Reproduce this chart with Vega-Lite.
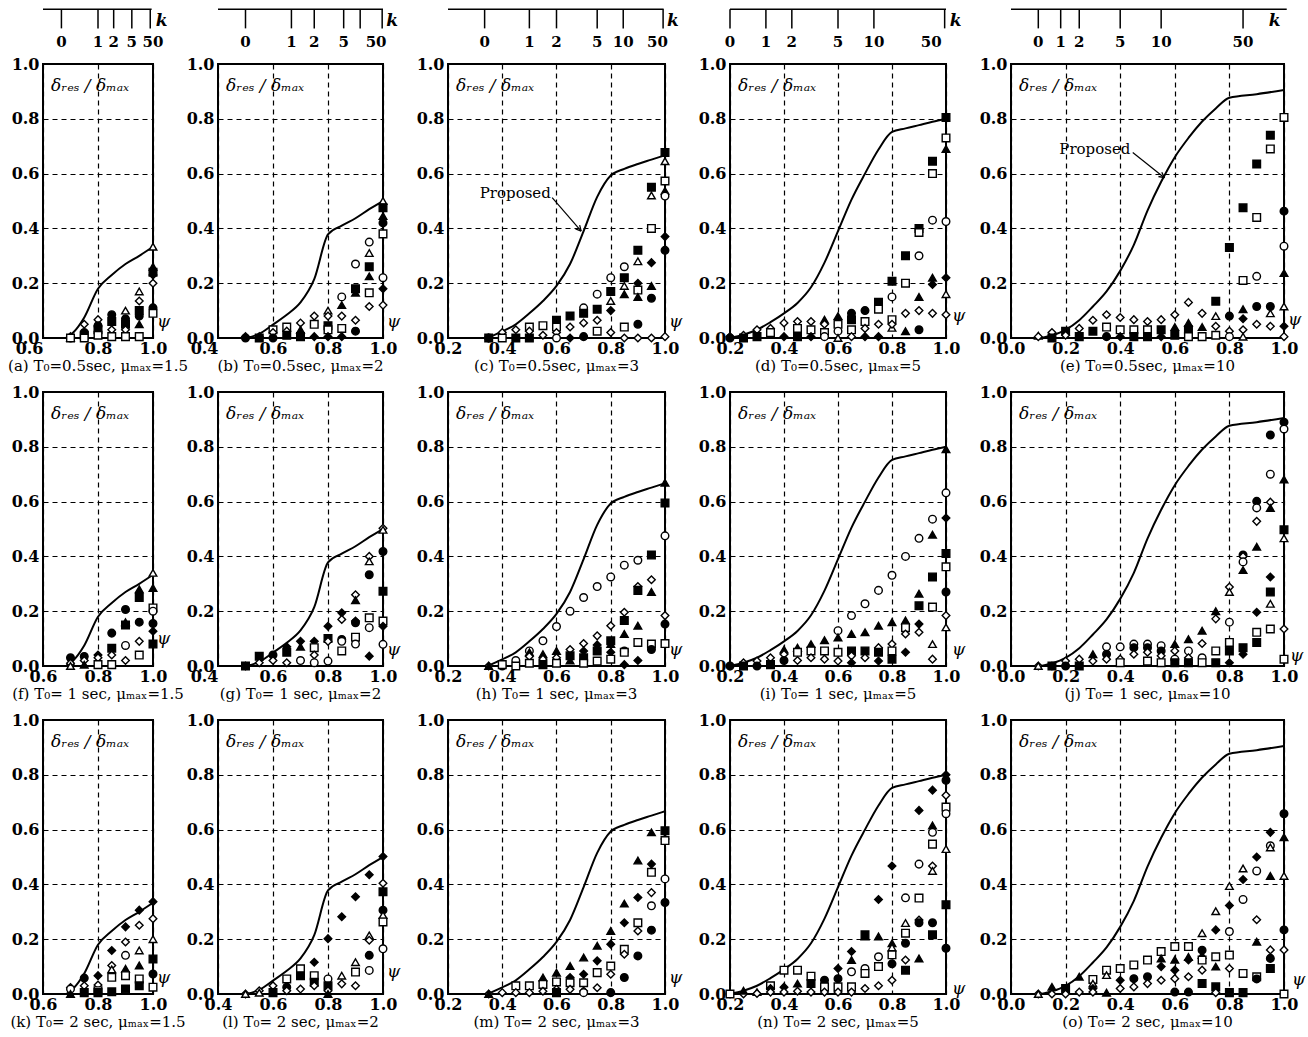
{
"$schema":"https://vega.github.io/schema/vega-lite/v6.json",
"background":"white",
"padding":{"left":7,"top":7,"right":2,"bottom":2},
"config":{
 "font":"DejaVu Serif",
 "view":{"stroke":"black","strokeWidth":2},
 "axis":{"grid":true,"gridColor":"black","gridDash":[5,4],"gridWidth":1.2,"gridOpacity":1,"domain":false,"ticks":false,"labelFont":"DejaVu Serif","labelFontSize":16,"labelFontWeight":"bold","labelColor":"black","format":".1f","labelOverlap":false},
 "axisX":{"labelPadding":2,"labelFlush":false},
 "axisY":{"labelPadding":4},
 "title":{"orient":"bottom","anchor":"middle","font":"DejaVu Serif","fontSize":15,"fontWeight":"normal","color":"black","offset":3},
 "text":{"color":"black"}
},
"datasets":{
 "curve":[
  {"c":"a","x":0.685,"y":0},{"c":"a","x":0.71,"y":0.02},{"c":"a","x":0.75,"y":0.075},{"c":"a","x":0.8,"y":0.18},{"c":"a","x":0.85,"y":0.23},{"c":"a","x":0.9,"y":0.27},{"c":"a","x":0.95,"y":0.3},{"c":"a","x":1.0,"y":0.333},
  {"c":"b","x":0.503,"y":0},{"c":"b","x":0.55,"y":0.015},{"c":"b","x":0.6,"y":0.049},{"c":"b","x":0.65,"y":0.085},{"c":"b","x":0.7,"y":0.13},{"c":"b","x":0.75,"y":0.215},{"c":"b","x":0.8,"y":0.378},{"c":"b","x":0.85,"y":0.41},{"c":"b","x":0.9,"y":0.437},{"c":"b","x":0.95,"y":0.47},{"c":"b","x":1.0,"y":0.5},
  {"c":"c","x":0.347,"y":0},{"c":"c","x":0.4,"y":0.024},{"c":"c","x":0.45,"y":0.05},{"c":"c","x":0.5,"y":0.09},{"c":"c","x":0.55,"y":0.135},{"c":"c","x":0.6,"y":0.19},{"c":"c","x":0.65,"y":0.27},{"c":"c","x":0.7,"y":0.39},{"c":"c","x":0.75,"y":0.515},{"c":"c","x":0.8,"y":0.593},{"c":"c","x":0.85,"y":0.617},{"c":"c","x":0.9,"y":0.635},{"c":"c","x":0.95,"y":0.651},{"c":"c","x":1.0,"y":0.667},
  {"c":"d","x":0.2,"y":0},{"c":"d","x":0.25,"y":0.012},{"c":"d","x":0.3,"y":0.03},{"c":"d","x":0.35,"y":0.058},{"c":"d","x":0.4,"y":0.09},{"c":"d","x":0.45,"y":0.128},{"c":"d","x":0.5,"y":0.185},{"c":"d","x":0.55,"y":0.275},{"c":"d","x":0.6,"y":0.39},{"c":"d","x":0.65,"y":0.505},{"c":"d","x":0.7,"y":0.6},{"c":"d","x":0.75,"y":0.688},{"c":"d","x":0.8,"y":0.752},{"c":"d","x":0.85,"y":0.765},{"c":"d","x":0.9,"y":0.777},{"c":"d","x":0.95,"y":0.789},{"c":"d","x":1.0,"y":0.8},
  {"c":"e","x":0.11,"y":0},{"c":"e","x":0.15,"y":0.01},{"c":"e","x":0.2,"y":0.03},{"c":"e","x":0.25,"y":0.065},{"c":"e","x":0.3,"y":0.115},{"c":"e","x":0.35,"y":0.17},{"c":"e","x":0.4,"y":0.245},{"c":"e","x":0.45,"y":0.34},{"c":"e","x":0.5,"y":0.465},{"c":"e","x":0.55,"y":0.57},{"c":"e","x":0.6,"y":0.66},{"c":"e","x":0.65,"y":0.73},{"c":"e","x":0.7,"y":0.79},{"c":"e","x":0.75,"y":0.838},{"c":"e","x":0.8,"y":0.877},{"c":"e","x":0.9,"y":0.89},{"c":"e","x":1.0,"y":0.905}
 ],
 "kax":[
  {"c":"a","k":"0","x":0.667,"lx":0.667},{"c":"a","k":"1","x":0.8,"lx":0.8},{"c":"a","k":"2","x":0.857,"lx":0.857},{"c":"a","k":"5","x":0.923,"lx":0.923},{"c":"a","k":"50","x":0.99,"lx":1.0},
  {"c":"b","k":"0","x":0.5,"lx":0.5},{"c":"b","k":"1","x":0.667,"lx":0.667},{"c":"b","k":"2","x":0.75,"lx":0.75},{"c":"b","k":"5","x":0.857,"lx":0.857},{"c":"b","k":"","x":0.917,"lx":0.917},{"c":"b","k":"50","x":0.997,"lx":0.975},
  {"c":"c","k":"0","x":0.335,"lx":0.335},{"c":"c","k":"1","x":0.5,"lx":0.5},{"c":"c","k":"2","x":0.6,"lx":0.6},{"c":"c","k":"5","x":0.75,"lx":0.75},{"c":"c","k":"10","x":0.846,"lx":0.846},{"c":"c","k":"50","x":0.993,"lx":0.972},
  {"c":"d","k":"0","x":0.2,"lx":0.2},{"c":"d","k":"1","x":0.333,"lx":0.333},{"c":"d","k":"2","x":0.429,"lx":0.429},{"c":"d","k":"5","x":0.6,"lx":0.6},{"c":"d","k":"10","x":0.733,"lx":0.733},{"c":"d","k":"50","x":0.995,"lx":0.945},
  {"c":"e","k":"0","x":0.1,"lx":0.1},{"c":"e","k":"1","x":0.182,"lx":0.182},{"c":"e","k":"2","x":0.25,"lx":0.25},{"c":"e","k":"5","x":0.4,"lx":0.4},{"c":"e","k":"10","x":0.55,"lx":0.55},{"c":"e","k":"50","x":0.85,"lx":0.85}
 ],
 "pts":[
  {"p":"a","s":"od","x":0.7,"y":0.005},{"p":"a","s":"fc","x":0.7,"y":0},{"p":"a","s":"ot","x":0.7,"y":0},{"p":"a","s":"os","x":0.7,"y":0},
  {"p":"a","s":"od","x":0.75,"y":0.05},{"p":"a","s":"fs","x":0.75,"y":0.01},{"p":"a","s":"fc","x":0.75,"y":0.02},{"p":"a","s":"os","x":0.75,"y":0},
  {"p":"a","s":"od","x":0.8,"y":0.067},{"p":"a","s":"fc","x":0.8,"y":0.045},{"p":"a","s":"fs","x":0.8,"y":0.03},{"p":"a","s":"os","x":0.8,"y":0.01},
  {"p":"a","s":"fc","x":0.85,"y":0.085},{"p":"a","s":"fs","x":0.85,"y":0.06},{"p":"a","s":"od","x":0.85,"y":0.03},{"p":"a","s":"os","x":0.85,"y":0.005},
  {"p":"a","s":"ot","x":0.9,"y":0.1},{"p":"a","s":"fc","x":0.9,"y":0.07},{"p":"a","s":"fs","x":0.9,"y":0.05},{"p":"a","s":"od","x":0.9,"y":0.03},{"p":"a","s":"os","x":0.9,"y":0.005},
  {"p":"a","s":"ot","x":0.95,"y":0.17},{"p":"a","s":"od","x":0.95,"y":0.135},{"p":"a","s":"fs","x":0.95,"y":0.1},{"p":"a","s":"fc","x":0.95,"y":0.08},{"p":"a","s":"ft","x":0.95,"y":0.05},{"p":"a","s":"os","x":0.95,"y":0.005},
  {"p":"a","s":"ot","x":1,"y":0.333},{"p":"a","s":"ft","x":1,"y":0.26},{"p":"a","s":"fs","x":1,"y":0.24},{"p":"a","s":"fd","x":1,"y":0.23},{"p":"a","s":"od","x":1,"y":0.2},{"p":"a","s":"fc","x":1,"y":0.11},{"p":"a","s":"os","x":1,"y":0.09},

  {"p":"b","s":"od","x":0.5,"y":0.005},{"p":"b","s":"fc","x":0.5,"y":0},
  {"p":"b","s":"od","x":0.55,"y":0.005},{"p":"b","s":"fs","x":0.55,"y":0},
  {"p":"b","s":"os","x":0.6,"y":0.03},{"p":"b","s":"od","x":0.6,"y":0.02},{"p":"b","s":"fc","x":0.6,"y":0},
  {"p":"b","s":"os","x":0.65,"y":0.04},{"p":"b","s":"od","x":0.65,"y":0.025},{"p":"b","s":"fs","x":0.65,"y":0.01},
  {"p":"b","s":"od","x":0.7,"y":0.055},{"p":"b","s":"ft","x":0.7,"y":0.03},{"p":"b","s":"fs","x":0.7,"y":0.005},
  {"p":"b","s":"od","x":0.75,"y":0.08},{"p":"b","s":"os","x":0.75,"y":0.05},{"p":"b","s":"fd","x":0.75,"y":0.005},
  {"p":"b","s":"ot","x":0.8,"y":0.1},{"p":"b","s":"od","x":0.8,"y":0.08},{"p":"b","s":"fs","x":0.8,"y":0.045},{"p":"b","s":"os","x":0.8,"y":0.03},{"p":"b","s":"fd","x":0.8,"y":0.005},
  {"p":"b","s":"oc","x":0.85,"y":0.15},{"p":"b","s":"ft","x":0.85,"y":0.12},{"p":"b","s":"od","x":0.85,"y":0.08},{"p":"b","s":"os","x":0.85,"y":0.035},{"p":"b","s":"fd","x":0.85,"y":0.005},
  {"p":"b","s":"oc","x":0.9,"y":0.27},{"p":"b","s":"fs","x":0.9,"y":0.18},{"p":"b","s":"ft","x":0.9,"y":0.165},{"p":"b","s":"od","x":0.9,"y":0.065},{"p":"b","s":"fc","x":0.9,"y":0.025},
  {"p":"b","s":"oc","x":0.95,"y":0.35},{"p":"b","s":"ot","x":0.95,"y":0.31},{"p":"b","s":"fs","x":0.95,"y":0.26},{"p":"b","s":"ft","x":0.95,"y":0.225},{"p":"b","s":"os","x":0.95,"y":0.165},{"p":"b","s":"od","x":0.95,"y":0.115},
  {"p":"b","s":"ot","x":1,"y":0.5},{"p":"b","s":"fs","x":1,"y":0.475},{"p":"b","s":"ft","x":1,"y":0.445},{"p":"b","s":"fc","x":1,"y":0.42},{"p":"b","s":"os","x":1,"y":0.38},{"p":"b","s":"oc","x":1,"y":0.22},{"p":"b","s":"fd","x":1,"y":0.18},{"p":"b","s":"od","x":1,"y":0.12},

  {"p":"c","s":"od","x":0.35,"y":0},{"p":"c","s":"os","x":0.35,"y":0},{"p":"c","s":"fc","x":0.35,"y":0},
  {"p":"c","s":"od","x":0.4,"y":0.02},{"p":"c","s":"os","x":0.4,"y":0},
  {"p":"c","s":"od","x":0.45,"y":0.03},{"p":"c","s":"fs","x":0.45,"y":0},
  {"p":"c","s":"os","x":0.5,"y":0.04},{"p":"c","s":"od","x":0.5,"y":0.025},{"p":"c","s":"fs","x":0.5,"y":0},
  {"p":"c","s":"os","x":0.55,"y":0.045},{"p":"c","s":"od","x":0.55,"y":0.01},
  {"p":"c","s":"fs","x":0.6,"y":0.065},{"p":"c","s":"os","x":0.6,"y":0.04},{"p":"c","s":"od","x":0.6,"y":0.02},{"p":"c","s":"oc","x":0.6,"y":0},
  {"p":"c","s":"fs","x":0.65,"y":0.08},{"p":"c","s":"od","x":0.65,"y":0.04},{"p":"c","s":"fd","x":0.65,"y":0},
  {"p":"c","s":"oc","x":0.7,"y":0.11},{"p":"c","s":"fs","x":0.7,"y":0.09},{"p":"c","s":"od","x":0.7,"y":0.055},{"p":"c","s":"fc","x":0.7,"y":0.005},
  {"p":"c","s":"oc","x":0.75,"y":0.16},{"p":"c","s":"fs","x":0.75,"y":0.105},{"p":"c","s":"od","x":0.75,"y":0.065},{"p":"c","s":"os","x":0.75,"y":0.025},
  {"p":"c","s":"oc","x":0.8,"y":0.22},{"p":"c","s":"fs","x":0.8,"y":0.17},{"p":"c","s":"ot","x":0.8,"y":0.135},{"p":"c","s":"fd","x":0.8,"y":0.1},{"p":"c","s":"od","x":0.8,"y":0.02},
  {"p":"c","s":"oc","x":0.85,"y":0.26},{"p":"c","s":"fs","x":0.85,"y":0.22},{"p":"c","s":"ot","x":0.85,"y":0.19},{"p":"c","s":"ft","x":0.85,"y":0.16},{"p":"c","s":"os","x":0.85,"y":0.04},{"p":"c","s":"od","x":0.85,"y":0},
  {"p":"c","s":"fs","x":0.9,"y":0.32},{"p":"c","s":"ot","x":0.9,"y":0.28},{"p":"c","s":"fd","x":0.9,"y":0.2},{"p":"c","s":"os","x":0.9,"y":0.175},{"p":"c","s":"ft","x":0.9,"y":0.15},{"p":"c","s":"fc","x":0.9,"y":0.05},{"p":"c","s":"od","x":0.9,"y":0},
  {"p":"c","s":"fs","x":0.95,"y":0.55},{"p":"c","s":"ot","x":0.95,"y":0.52},{"p":"c","s":"os","x":0.95,"y":0.4},{"p":"c","s":"fd","x":0.95,"y":0.275},{"p":"c","s":"ft","x":0.95,"y":0.19},{"p":"c","s":"fc","x":0.95,"y":0.145},{"p":"c","s":"od","x":0.95,"y":0},
  {"p":"c","s":"fs","x":1,"y":0.677},{"p":"c","s":"ot","x":1,"y":0.645},{"p":"c","s":"os","x":1,"y":0.573},{"p":"c","s":"ft","x":1,"y":0.537},{"p":"c","s":"oc","x":1,"y":0.518},{"p":"c","s":"fd","x":1,"y":0.37},{"p":"c","s":"fc","x":1,"y":0.32},{"p":"c","s":"od","x":1,"y":0.005},

  {"p":"d","s":"od","x":0.2,"y":0.005},{"p":"d","s":"fc","x":0.2,"y":0},
  {"p":"d","s":"od","x":0.25,"y":0.01},{"p":"d","s":"fs","x":0.25,"y":0},
  {"p":"d","s":"od","x":0.3,"y":0.03},{"p":"d","s":"fs","x":0.3,"y":0.005},
  {"p":"d","s":"od","x":0.35,"y":0.035},{"p":"d","s":"os","x":0.35,"y":0.02},
  {"p":"d","s":"od","x":0.4,"y":0.055},{"p":"d","s":"fd","x":0.4,"y":0.005},
  {"p":"d","s":"od","x":0.45,"y":0.06},{"p":"d","s":"os","x":0.45,"y":0.035},{"p":"d","s":"fs","x":0.45,"y":0.005},
  {"p":"d","s":"od","x":0.5,"y":0.06},{"p":"d","s":"os","x":0.5,"y":0.03},{"p":"d","s":"fd","x":0.5,"y":0.005},
  {"p":"d","s":"ft","x":0.55,"y":0.067},{"p":"d","s":"od","x":0.55,"y":0.05},{"p":"d","s":"os","x":0.55,"y":0.02},{"p":"d","s":"oc","x":0.55,"y":0.005},
  {"p":"d","s":"ft","x":0.6,"y":0.08},{"p":"d","s":"os","x":0.6,"y":0.05},{"p":"d","s":"oc","x":0.6,"y":0.025},{"p":"d","s":"ot","x":0.6,"y":0},
  {"p":"d","s":"fc","x":0.65,"y":0.09},{"p":"d","s":"fs","x":0.65,"y":0.067},{"p":"d","s":"os","x":0.65,"y":0.03},{"p":"d","s":"od","x":0.65,"y":0.005},
  {"p":"d","s":"fc","x":0.7,"y":0.1},{"p":"d","s":"os","x":0.7,"y":0.06},{"p":"d","s":"od","x":0.7,"y":0.035},{"p":"d","s":"fd","x":0.7,"y":0.005},
  {"p":"d","s":"fs","x":0.75,"y":0.13},{"p":"d","s":"os","x":0.75,"y":0.105},{"p":"d","s":"od","x":0.75,"y":0.05},{"p":"d","s":"fd","x":0.75,"y":0.005},
  {"p":"d","s":"fs","x":0.8,"y":0.207},{"p":"d","s":"oc","x":0.8,"y":0.15},{"p":"d","s":"os","x":0.8,"y":0.067},{"p":"d","s":"ot","x":0.8,"y":0.037},{"p":"d","s":"od","x":0.8,"y":0.05},
  {"p":"d","s":"fs","x":0.85,"y":0.3},{"p":"d","s":"os","x":0.85,"y":0.2},{"p":"d","s":"od","x":0.85,"y":0.09},{"p":"d","s":"ft","x":0.85,"y":0.025},
  {"p":"d","s":"oc","x":0.9,"y":0.3},{"p":"d","s":"fs","x":0.9,"y":0.4},{"p":"d","s":"os","x":0.9,"y":0.385},{"p":"d","s":"ft","x":0.9,"y":0.15},{"p":"d","s":"od","x":0.9,"y":0.1},{"p":"d","s":"fc","x":0.9,"y":0.03},
  {"p":"d","s":"oc","x":0.95,"y":0.43},{"p":"d","s":"fs","x":0.95,"y":0.645},{"p":"d","s":"os","x":0.95,"y":0.6},{"p":"d","s":"ft","x":0.95,"y":0.22},{"p":"d","s":"fd","x":0.95,"y":0.195},{"p":"d","s":"od","x":0.95,"y":0.09},
  {"p":"d","s":"fs","x":1,"y":0.805},{"p":"d","s":"os","x":1,"y":0.73},{"p":"d","s":"ft","x":1,"y":0.69},{"p":"d","s":"oc","x":1,"y":0.425},{"p":"d","s":"fd","x":1,"y":0.22},{"p":"d","s":"ot","x":1,"y":0.16},{"p":"d","s":"od","x":1,"y":0.085},

  {"p":"e","s":"ot","x":0.1,"y":0.008},{"p":"e","s":"od","x":0.1,"y":0.005},
  {"p":"e","s":"od","x":0.15,"y":0.02},{"p":"e","s":"fs","x":0.15,"y":0},
  {"p":"e","s":"fs","x":0.2,"y":0.025},{"p":"e","s":"od","x":0.2,"y":0.01},
  {"p":"e","s":"od","x":0.25,"y":0.035},{"p":"e","s":"fs","x":0.25,"y":0.005},
  {"p":"e","s":"od","x":0.3,"y":0.065},{"p":"e","s":"fs","x":0.3,"y":0.025},
  {"p":"e","s":"od","x":0.35,"y":0.085},{"p":"e","s":"os","x":0.35,"y":0.04},{"p":"e","s":"fc","x":0.35,"y":0.005},
  {"p":"e","s":"od","x":0.4,"y":0.075},{"p":"e","s":"os","x":0.4,"y":0.03},{"p":"e","s":"fd","x":0.4,"y":0.005},
  {"p":"e","s":"od","x":0.45,"y":0.067},{"p":"e","s":"os","x":0.45,"y":0.03},{"p":"e","s":"fs","x":0.45,"y":0.005},
  {"p":"e","s":"od","x":0.5,"y":0.06},{"p":"e","s":"os","x":0.5,"y":0.03},{"p":"e","s":"fs","x":0.5,"y":0.005},
  {"p":"e","s":"od","x":0.55,"y":0.067},{"p":"e","s":"fs","x":0.55,"y":0.03},{"p":"e","s":"fd","x":0.55,"y":0.005},
  {"p":"e","s":"od","x":0.6,"y":0.085},{"p":"e","s":"ft","x":0.6,"y":0.04},{"p":"e","s":"fs","x":0.6,"y":0.01},
  {"p":"e","s":"od","x":0.65,"y":0.13},{"p":"e","s":"ft","x":0.65,"y":0.055},{"p":"e","s":"fs","x":0.65,"y":0.03},{"p":"e","s":"os","x":0.65,"y":0.005},
  {"p":"e","s":"od","x":0.7,"y":0.09},{"p":"e","s":"ft","x":0.7,"y":0.04},{"p":"e","s":"os","x":0.7,"y":0.005},
  {"p":"e","s":"fs","x":0.75,"y":0.134},{"p":"e","s":"ot","x":0.75,"y":0.08},{"p":"e","s":"od","x":0.75,"y":0.043},{"p":"e","s":"os","x":0.75,"y":0.01},
  {"p":"e","s":"fs","x":0.8,"y":0.33},{"p":"e","s":"fc","x":0.8,"y":0.08},{"p":"e","s":"od","x":0.8,"y":0.025},{"p":"e","s":"oc","x":0.8,"y":0.005},
  {"p":"e","s":"fs","x":0.85,"y":0.475},{"p":"e","s":"os","x":0.85,"y":0.21},{"p":"e","s":"ft","x":0.85,"y":0.105},{"p":"e","s":"fd","x":0.85,"y":0.07},{"p":"e","s":"od","x":0.85,"y":0.03},{"p":"e","s":"ot","x":0.85,"y":0.005},
  {"p":"e","s":"fs","x":0.9,"y":0.635},{"p":"e","s":"os","x":0.9,"y":0.44},{"p":"e","s":"oc","x":0.9,"y":0.225},{"p":"e","s":"fc","x":0.9,"y":0.115},{"p":"e","s":"od","x":0.9,"y":0.05},
  {"p":"e","s":"fs","x":0.95,"y":0.74},{"p":"e","s":"os","x":0.95,"y":0.69},{"p":"e","s":"fc","x":0.95,"y":0.115},{"p":"e","s":"ot","x":0.95,"y":0.09},{"p":"e","s":"od","x":0.95,"y":0.043},
  {"p":"e","s":"os","x":1,"y":0.805},{"p":"e","s":"fc","x":1,"y":0.463},{"p":"e","s":"oc","x":1,"y":0.335},{"p":"e","s":"ft","x":1,"y":0.237},{"p":"e","s":"ot","x":1,"y":0.115},{"p":"e","s":"fd","x":1,"y":0.043},{"p":"e","s":"od","x":1,"y":0.005},

  {"p":"f","s":"fc","x":0.7,"y":0.03},{"p":"f","s":"ft","x":0.7,"y":0.015},{"p":"f","s":"od","x":0.7,"y":0.01},{"p":"f","s":"ot","x":0.7,"y":0},
  {"p":"f","s":"fc","x":0.75,"y":0.035},{"p":"f","s":"od","x":0.75,"y":0.02},{"p":"f","s":"ft","x":0.75,"y":0.005},
  {"p":"f","s":"fd","x":0.8,"y":0.04},{"p":"f","s":"od","x":0.8,"y":0.03},{"p":"f","s":"os","x":0.8,"y":0.005},
  {"p":"f","s":"fc","x":0.85,"y":0.12},{"p":"f","s":"fs","x":0.85,"y":0.065},{"p":"f","s":"od","x":0.85,"y":0.04},{"p":"f","s":"os","x":0.85,"y":0.005},
  {"p":"f","s":"fc","x":0.9,"y":0.206},{"p":"f","s":"ft","x":0.9,"y":0.16},{"p":"f","s":"fs","x":0.9,"y":0.15},{"p":"f","s":"oc","x":0.9,"y":0.075},{"p":"f","s":"od","x":0.9,"y":0.02},
  {"p":"f","s":"ft","x":0.95,"y":0.28},{"p":"f","s":"fs","x":0.95,"y":0.25},{"p":"f","s":"fc","x":0.95,"y":0.16},{"p":"f","s":"od","x":0.95,"y":0.09},{"p":"f","s":"os","x":0.95,"y":0.04},
  {"p":"f","s":"ot","x":1,"y":0.34},{"p":"f","s":"ft","x":1,"y":0.285},{"p":"f","s":"os","x":1,"y":0.212},{"p":"f","s":"oc","x":1,"y":0.2},{"p":"f","s":"fc","x":1,"y":0.155},{"p":"f","s":"fd","x":1,"y":0.127},{"p":"f","s":"fs","x":1,"y":0.08},

  {"p":"g","s":"od","x":0.5,"y":0},{"p":"g","s":"fs","x":0.5,"y":0},
  {"p":"g","s":"fs","x":0.55,"y":0.036},{"p":"g","s":"od","x":0.55,"y":0.012},
  {"p":"g","s":"fc","x":0.6,"y":0.04},{"p":"g","s":"od","x":0.6,"y":0.02},
  {"p":"g","s":"fd","x":0.65,"y":0.07},{"p":"g","s":"fs","x":0.65,"y":0.05},{"p":"g","s":"od","x":0.65,"y":0.012},
  {"p":"g","s":"fd","x":0.7,"y":0.09},{"p":"g","s":"ft","x":0.7,"y":0.07},{"p":"g","s":"oc","x":0.7,"y":0.02},
  {"p":"g","s":"fd","x":0.75,"y":0.09},{"p":"g","s":"os","x":0.75,"y":0.067},{"p":"g","s":"od","x":0.75,"y":0.04},{"p":"g","s":"oc","x":0.75,"y":0.012},
  {"p":"g","s":"fd","x":0.8,"y":0.145},{"p":"g","s":"fs","x":0.8,"y":0.1},{"p":"g","s":"od","x":0.8,"y":0.09},{"p":"g","s":"oc","x":0.8,"y":0.018},
  {"p":"g","s":"fd","x":0.85,"y":0.194},{"p":"g","s":"od","x":0.85,"y":0.17},{"p":"g","s":"fc","x":0.85,"y":0.097},{"p":"g","s":"oc","x":0.85,"y":0.09},{"p":"g","s":"os","x":0.85,"y":0.055},
  {"p":"g","s":"od","x":0.9,"y":0.26},{"p":"g","s":"ft","x":0.9,"y":0.24},{"p":"g","s":"fd","x":0.9,"y":0.164},{"p":"g","s":"fc","x":0.9,"y":0.158},{"p":"g","s":"os","x":0.9,"y":0.105},{"p":"g","s":"oc","x":0.9,"y":0.08},
  {"p":"g","s":"od","x":0.95,"y":0.4},{"p":"g","s":"ot","x":0.95,"y":0.382},{"p":"g","s":"fc","x":0.95,"y":0.333},{"p":"g","s":"os","x":0.95,"y":0.176},{"p":"g","s":"oc","x":0.95,"y":0.14},{"p":"g","s":"fd","x":0.95,"y":0.036},
  {"p":"g","s":"od","x":1,"y":0.503},{"p":"g","s":"ot","x":1,"y":0.497},{"p":"g","s":"fc","x":1,"y":0.418},{"p":"g","s":"fs","x":1,"y":0.273},{"p":"g","s":"os","x":1,"y":0.164},{"p":"g","s":"fd","x":1,"y":0.145},{"p":"g","s":"oc","x":1,"y":0.079},

  {"p":"h","s":"od","x":0.35,"y":0},{"p":"h","s":"ft","x":0.35,"y":0},
  {"p":"h","s":"oc","x":0.4,"y":0},{"p":"h","s":"os","x":0.4,"y":0.005},
  {"p":"h","s":"oc","x":0.45,"y":0.02},{"p":"h","s":"os","x":0.45,"y":0},
  {"p":"h","s":"oc","x":0.5,"y":0.055},{"p":"h","s":"ft","x":0.5,"y":0.05},{"p":"h","s":"od","x":0.5,"y":0.035},{"p":"h","s":"os","x":0.5,"y":0.01},
  {"p":"h","s":"oc","x":0.55,"y":0.092},{"p":"h","s":"ft","x":0.55,"y":0.043},{"p":"h","s":"od","x":0.55,"y":0.025},{"p":"h","s":"fs","x":0.55,"y":0.005},
  {"p":"h","s":"oc","x":0.6,"y":0.144},{"p":"h","s":"ft","x":0.6,"y":0.055},{"p":"h","s":"od","x":0.6,"y":0.03},{"p":"h","s":"os","x":0.6,"y":0.01},
  {"p":"h","s":"oc","x":0.65,"y":0.2},{"p":"h","s":"od","x":0.65,"y":0.06},{"p":"h","s":"fs","x":0.65,"y":0.037},{"p":"h","s":"ft","x":0.65,"y":0.02},
  {"p":"h","s":"oc","x":0.7,"y":0.25},{"p":"h","s":"od","x":0.7,"y":0.082},{"p":"h","s":"fd","x":0.7,"y":0.055},{"p":"h","s":"fs","x":0.7,"y":0.03},{"p":"h","s":"os","x":0.7,"y":0.01},
  {"p":"h","s":"oc","x":0.75,"y":0.29},{"p":"h","s":"od","x":0.75,"y":0.11},{"p":"h","s":"fd","x":0.75,"y":0.077},{"p":"h","s":"fs","x":0.75,"y":0.055},{"p":"h","s":"os","x":0.75,"y":0.018},
  {"p":"h","s":"oc","x":0.8,"y":0.325},{"p":"h","s":"od","x":0.8,"y":0.147},{"p":"h","s":"fs","x":0.8,"y":0.092},{"p":"h","s":"ft","x":0.8,"y":0.08},{"p":"h","s":"fd","x":0.8,"y":0.05},{"p":"h","s":"os","x":0.8,"y":0.025},
  {"p":"h","s":"oc","x":0.85,"y":0.368},{"p":"h","s":"od","x":0.85,"y":0.196},{"p":"h","s":"fs","x":0.85,"y":0.166},{"p":"h","s":"ft","x":0.85,"y":0.117},{"p":"h","s":"fc","x":0.85,"y":0.055},{"p":"h","s":"os","x":0.85,"y":0.05},{"p":"h","s":"fd","x":0.85,"y":0.005},
  {"p":"h","s":"oc","x":0.9,"y":0.386},{"p":"h","s":"od","x":0.9,"y":0.29},{"p":"h","s":"fs","x":0.9,"y":0.276},{"p":"h","s":"ft","x":0.9,"y":0.147},{"p":"h","s":"os","x":0.9,"y":0.086},{"p":"h","s":"fd","x":0.9,"y":0.02},
  {"p":"h","s":"fs","x":0.95,"y":0.405},{"p":"h","s":"od","x":0.95,"y":0.315},{"p":"h","s":"ft","x":0.95,"y":0.27},{"p":"h","s":"os","x":0.95,"y":0.08},{"p":"h","s":"fc","x":0.95,"y":0.06},
  {"p":"h","s":"ft","x":1,"y":0.669},{"p":"h","s":"fs","x":1,"y":0.595},{"p":"h","s":"oc","x":1,"y":0.475},{"p":"h","s":"od","x":1,"y":0.184},{"p":"h","s":"fc","x":1,"y":0.153},{"p":"h","s":"os","x":1,"y":0.082},

  {"p":"i","s":"od","x":0.2,"y":0},{"p":"i","s":"fc","x":0.2,"y":0},
  {"p":"i","s":"od","x":0.25,"y":0.012},{"p":"i","s":"fs","x":0.25,"y":0},
  {"p":"i","s":"od","x":0.3,"y":0.018},{"p":"i","s":"fc","x":0.3,"y":0},
  {"p":"i","s":"od","x":0.35,"y":0.03},{"p":"i","s":"fs","x":0.35,"y":0.005},
  {"p":"i","s":"ft","x":0.4,"y":0.06},{"p":"i","s":"od","x":0.4,"y":0.043},{"p":"i","s":"fc","x":0.4,"y":0.02},
  {"p":"i","s":"ft","x":0.45,"y":0.067},{"p":"i","s":"os","x":0.45,"y":0.05},{"p":"i","s":"od","x":0.45,"y":0.02},
  {"p":"i","s":"ft","x":0.5,"y":0.08},{"p":"i","s":"os","x":0.5,"y":0.055},{"p":"i","s":"od","x":0.5,"y":0.03},
  {"p":"i","s":"ft","x":0.55,"y":0.094},{"p":"i","s":"os","x":0.55,"y":0.055},{"p":"i","s":"od","x":0.55,"y":0.025},
  {"p":"i","s":"oc","x":0.6,"y":0.129},{"p":"i","s":"ft","x":0.6,"y":0.104},{"p":"i","s":"os","x":0.6,"y":0.05},{"p":"i","s":"od","x":0.6,"y":0.018},
  {"p":"i","s":"oc","x":0.65,"y":0.184},{"p":"i","s":"ft","x":0.65,"y":0.117},{"p":"i","s":"fs","x":0.65,"y":0.055},{"p":"i","s":"od","x":0.65,"y":0.037},{"p":"i","s":"fd","x":0.65,"y":0.012},
  {"p":"i","s":"oc","x":0.7,"y":0.227},{"p":"i","s":"ft","x":0.7,"y":0.123},{"p":"i","s":"fs","x":0.7,"y":0.055},{"p":"i","s":"od","x":0.7,"y":0.03},
  {"p":"i","s":"oc","x":0.75,"y":0.276},{"p":"i","s":"ft","x":0.75,"y":0.147},{"p":"i","s":"od","x":0.75,"y":0.067},{"p":"i","s":"fs","x":0.75,"y":0.05},{"p":"i","s":"fd","x":0.75,"y":0.018},
  {"p":"i","s":"oc","x":0.8,"y":0.331},{"p":"i","s":"ft","x":0.8,"y":0.16},{"p":"i","s":"od","x":0.8,"y":0.08},{"p":"i","s":"os","x":0.8,"y":0.055},{"p":"i","s":"fs","x":0.8,"y":0.025},
  {"p":"i","s":"oc","x":0.85,"y":0.4},{"p":"i","s":"ft","x":0.85,"y":0.166},{"p":"i","s":"os","x":0.85,"y":0.14},{"p":"i","s":"od","x":0.85,"y":0.117},{"p":"i","s":"fd","x":0.85,"y":0.05},
  {"p":"i","s":"oc","x":0.9,"y":0.466},{"p":"i","s":"ft","x":0.9,"y":0.264},{"p":"i","s":"fs","x":0.9,"y":0.22},{"p":"i","s":"fd","x":0.9,"y":0.153},{"p":"i","s":"od","x":0.9,"y":0.123},
  {"p":"i","s":"oc","x":0.95,"y":0.536},{"p":"i","s":"ft","x":0.95,"y":0.479},{"p":"i","s":"fs","x":0.95,"y":0.325},{"p":"i","s":"os","x":0.95,"y":0.215},{"p":"i","s":"ot","x":0.95,"y":0.08},{"p":"i","s":"od","x":0.95,"y":0.025},
  {"p":"i","s":"ft","x":1,"y":0.791},{"p":"i","s":"oc","x":1,"y":0.632},{"p":"i","s":"fd","x":1,"y":0.54},{"p":"i","s":"fs","x":1,"y":0.411},{"p":"i","s":"os","x":1,"y":0.362},{"p":"i","s":"fc","x":1,"y":0.27},{"p":"i","s":"od","x":1,"y":0.184},{"p":"i","s":"ot","x":1,"y":0.141},

  {"p":"j","s":"od","x":0.1,"y":0},{"p":"j","s":"ot","x":0.1,"y":0},
  {"p":"j","s":"od","x":0.15,"y":0},{"p":"j","s":"fs","x":0.15,"y":0},
  {"p":"j","s":"od","x":0.2,"y":0.018},{"p":"j","s":"fc","x":0.2,"y":0},
  {"p":"j","s":"od","x":0.25,"y":0.025},{"p":"j","s":"fs","x":0.25,"y":0},
  {"p":"j","s":"ft","x":0.3,"y":0.043},{"p":"j","s":"od","x":0.3,"y":0.018},
  {"p":"j","s":"oc","x":0.35,"y":0.07},{"p":"j","s":"fc","x":0.35,"y":0.043},{"p":"j","s":"od","x":0.35,"y":0.025},
  {"p":"j","s":"oc","x":0.4,"y":0.07},{"p":"j","s":"od","x":0.4,"y":0.025},{"p":"j","s":"os","x":0.4,"y":0.012},
  {"p":"j","s":"oc","x":0.45,"y":0.08},{"p":"j","s":"fc","x":0.45,"y":0.067},{"p":"j","s":"od","x":0.45,"y":0.043},
  {"p":"j","s":"oc","x":0.5,"y":0.08},{"p":"j","s":"fc","x":0.5,"y":0.067},{"p":"j","s":"od","x":0.5,"y":0.05},{"p":"j","s":"os","x":0.5,"y":0.018},
  {"p":"j","s":"oc","x":0.55,"y":0.074},{"p":"j","s":"fc","x":0.55,"y":0.055},{"p":"j","s":"od","x":0.55,"y":0.037},{"p":"j","s":"os","x":0.55,"y":0.012},
  {"p":"j","s":"ft","x":0.6,"y":0.08},{"p":"j","s":"od","x":0.6,"y":0.055},{"p":"j","s":"oc","x":0.6,"y":0.025},{"p":"j","s":"fs","x":0.6,"y":0.012},
  {"p":"j","s":"ft","x":0.65,"y":0.098},{"p":"j","s":"oc","x":0.65,"y":0.055},{"p":"j","s":"od","x":0.65,"y":0.03},{"p":"j","s":"fs","x":0.65,"y":0.012},
  {"p":"j","s":"ft","x":0.7,"y":0.129},{"p":"j","s":"od","x":0.7,"y":0.082},{"p":"j","s":"oc","x":0.7,"y":0.03},{"p":"j","s":"os","x":0.7,"y":0.012},
  {"p":"j","s":"ft","x":0.75,"y":0.2},{"p":"j","s":"od","x":0.75,"y":0.172},{"p":"j","s":"os","x":0.75,"y":0.055},{"p":"j","s":"fs","x":0.75,"y":0.012},
  {"p":"j","s":"od","x":0.8,"y":0.288},{"p":"j","s":"ot","x":0.8,"y":0.27},{"p":"j","s":"oc","x":0.8,"y":0.16},{"p":"j","s":"os","x":0.8,"y":0.086},{"p":"j","s":"fs","x":0.8,"y":0.055},{"p":"j","s":"fd","x":0.8,"y":0.012},
  {"p":"j","s":"fc","x":0.85,"y":0.405},{"p":"j","s":"od","x":0.85,"y":0.4},{"p":"j","s":"oc","x":0.85,"y":0.38},{"p":"j","s":"ft","x":0.85,"y":0.35},{"p":"j","s":"fs","x":0.85,"y":0.067},{"p":"j","s":"fd","x":0.85,"y":0.043},
  {"p":"j","s":"fc","x":0.9,"y":0.601},{"p":"j","s":"oc","x":0.9,"y":0.577},{"p":"j","s":"od","x":0.9,"y":0.528},{"p":"j","s":"ft","x":0.9,"y":0.435},{"p":"j","s":"fd","x":0.9,"y":0.196},{"p":"j","s":"os","x":0.9,"y":0.123},{"p":"j","s":"fs","x":0.9,"y":0.086},
  {"p":"j","s":"fc","x":0.95,"y":0.843},{"p":"j","s":"oc","x":0.95,"y":0.7},{"p":"j","s":"od","x":0.95,"y":0.598},{"p":"j","s":"ft","x":0.95,"y":0.577},{"p":"j","s":"fd","x":0.95,"y":0.325},{"p":"j","s":"fs","x":0.95,"y":0.27},{"p":"j","s":"ot","x":0.95,"y":0.227},{"p":"j","s":"os","x":0.95,"y":0.135},
  {"p":"j","s":"fc","x":1,"y":0.89},{"p":"j","s":"oc","x":1,"y":0.865},{"p":"j","s":"ft","x":1,"y":0.681},{"p":"j","s":"fs","x":1,"y":0.497},{"p":"j","s":"ot","x":1,"y":0.466},{"p":"j","s":"od","x":1,"y":0.135},{"p":"j","s":"os","x":1,"y":0.025},

  {"p":"k","s":"od","x":0.7,"y":0.024},{"p":"k","s":"oc","x":0.7,"y":0.018},{"p":"k","s":"ft","x":0.7,"y":0},
  {"p":"k","s":"fc","x":0.75,"y":0.058},{"p":"k","s":"od","x":0.75,"y":0.03},{"p":"k","s":"fs","x":0.75,"y":0.005},
  {"p":"k","s":"fd","x":0.8,"y":0.067},{"p":"k","s":"od","x":0.8,"y":0.033},{"p":"k","s":"os","x":0.8,"y":0.012},{"p":"k","s":"fs","x":0.8,"y":0.005},
  {"p":"k","s":"fd","x":0.85,"y":0.159},{"p":"k","s":"od","x":0.85,"y":0.104},{"p":"k","s":"ot","x":0.85,"y":0.09},{"p":"k","s":"os","x":0.85,"y":0.061},{"p":"k","s":"fs","x":0.85,"y":0.008},
  {"p":"k","s":"fd","x":0.9,"y":0.245},{"p":"k","s":"od","x":0.9,"y":0.19},{"p":"k","s":"oc","x":0.9,"y":0.141},{"p":"k","s":"ft","x":0.9,"y":0.092},{"p":"k","s":"os","x":0.9,"y":0.067},{"p":"k","s":"fs","x":0.9,"y":0.018},
  {"p":"k","s":"fd","x":0.95,"y":0.306},{"p":"k","s":"od","x":0.95,"y":0.251},{"p":"k","s":"ot","x":0.95,"y":0.159},{"p":"k","s":"ft","x":0.95,"y":0.104},{"p":"k","s":"os","x":0.95,"y":0.055},{"p":"k","s":"fs","x":0.95,"y":0.03},
  {"p":"k","s":"fd","x":1,"y":0.337},{"p":"k","s":"od","x":1,"y":0.275},{"p":"k","s":"ot","x":1,"y":0.2},{"p":"k","s":"fs","x":1,"y":0.128},{"p":"k","s":"fc","x":1,"y":0.073},{"p":"k","s":"os","x":1,"y":0.025},

  {"p":"l","s":"od","x":0.5,"y":0},{"p":"l","s":"ot","x":0.5,"y":0},
  {"p":"l","s":"od","x":0.55,"y":0.012},{"p":"l","s":"ot","x":0.55,"y":0.005},
  {"p":"l","s":"od","x":0.6,"y":0.03},{"p":"l","s":"fs","x":0.6,"y":0.005},
  {"p":"l","s":"os","x":0.65,"y":0.055},{"p":"l","s":"fc","x":0.65,"y":0.025},{"p":"l","s":"od","x":0.65,"y":0.012},
  {"p":"l","s":"os","x":0.7,"y":0.092},{"p":"l","s":"fs","x":0.7,"y":0.067},{"p":"l","s":"od","x":0.7,"y":0.018},
  {"p":"l","s":"fd","x":0.75,"y":0.116},{"p":"l","s":"os","x":0.75,"y":0.067},{"p":"l","s":"fs","x":0.75,"y":0.043},{"p":"l","s":"od","x":0.75,"y":0.03},
  {"p":"l","s":"fd","x":0.8,"y":0.202},{"p":"l","s":"oc","x":0.8,"y":0.055},{"p":"l","s":"fs","x":0.8,"y":0.03},{"p":"l","s":"od","x":0.8,"y":0.012},{"p":"l","s":"ft","x":0.8,"y":0},
  {"p":"l","s":"fd","x":0.85,"y":0.282},{"p":"l","s":"ot","x":0.85,"y":0.067},{"p":"l","s":"od","x":0.85,"y":0.037},
  {"p":"l","s":"fd","x":0.9,"y":0.355},{"p":"l","s":"ot","x":0.9,"y":0.116},{"p":"l","s":"os","x":0.9,"y":0.08},{"p":"l","s":"od","x":0.9,"y":0.03},
  {"p":"l","s":"fd","x":0.95,"y":0.435},{"p":"l","s":"ot","x":0.95,"y":0.214},{"p":"l","s":"od","x":0.95,"y":0.196},{"p":"l","s":"fc","x":0.95,"y":0.141},{"p":"l","s":"oc","x":0.95,"y":0.086},
  {"p":"l","s":"fd","x":1,"y":0.502},{"p":"l","s":"od","x":1,"y":0.404},{"p":"l","s":"fs","x":1,"y":0.373},{"p":"l","s":"fc","x":1,"y":0.306},{"p":"l","s":"ot","x":1,"y":0.288},{"p":"l","s":"os","x":1,"y":0.263},{"p":"l","s":"oc","x":1,"y":0.165},

  {"p":"m","s":"od","x":0.35,"y":0},{"p":"m","s":"ft","x":0.35,"y":0},
  {"p":"m","s":"od","x":0.4,"y":0.005},
  {"p":"m","s":"os","x":0.45,"y":0.03},{"p":"m","s":"od","x":0.45,"y":0.005},
  {"p":"m","s":"os","x":0.5,"y":0.03},{"p":"m","s":"od","x":0.5,"y":0.005},
  {"p":"m","s":"ft","x":0.55,"y":0.06},{"p":"m","s":"os","x":0.55,"y":0.035},{"p":"m","s":"od","x":0.55,"y":0.01},
  {"p":"m","s":"ft","x":0.6,"y":0.078},{"p":"m","s":"os","x":0.6,"y":0.044},{"p":"m","s":"od","x":0.6,"y":0.017},{"p":"m","s":"fs","x":0.6,"y":0.005},
  {"p":"m","s":"ft","x":0.65,"y":0.102},{"p":"m","s":"fd","x":0.65,"y":0.06},{"p":"m","s":"os","x":0.65,"y":0.041},{"p":"m","s":"od","x":0.65,"y":0.017},
  {"p":"m","s":"ft","x":0.7,"y":0.133},{"p":"m","s":"fd","x":0.7,"y":0.072},{"p":"m","s":"os","x":0.7,"y":0.041},{"p":"m","s":"od","x":0.7,"y":0.011},{"p":"m","s":"oc","x":0.7,"y":0.005},
  {"p":"m","s":"ft","x":0.75,"y":0.176},{"p":"m","s":"fd","x":0.75,"y":0.121},{"p":"m","s":"os","x":0.75,"y":0.078},{"p":"m","s":"od","x":0.75,"y":0.023},
  {"p":"m","s":"ft","x":0.8,"y":0.23},{"p":"m","s":"fd","x":0.8,"y":0.182},{"p":"m","s":"os","x":0.8,"y":0.102},{"p":"m","s":"od","x":0.8,"y":0.072},{"p":"m","s":"fc","x":0.8,"y":0.005},
  {"p":"m","s":"ft","x":0.85,"y":0.33},{"p":"m","s":"fd","x":0.85,"y":0.26},{"p":"m","s":"os","x":0.85,"y":0.163},{"p":"m","s":"od","x":0.85,"y":0.145},{"p":"m","s":"fc","x":0.85,"y":0.06},
  {"p":"m","s":"ft","x":0.9,"y":0.487},{"p":"m","s":"fd","x":0.9,"y":0.352},{"p":"m","s":"os","x":0.9,"y":0.26},{"p":"m","s":"od","x":0.9,"y":0.23},{"p":"m","s":"fc","x":0.9,"y":0.139},
  {"p":"m","s":"ft","x":0.95,"y":0.59},{"p":"m","s":"fd","x":0.95,"y":0.474},{"p":"m","s":"os","x":0.95,"y":0.444},{"p":"m","s":"od","x":0.95,"y":0.37},{"p":"m","s":"oc","x":0.95,"y":0.322},{"p":"m","s":"fc","x":0.95,"y":0.233},
  {"p":"m","s":"fs","x":1,"y":0.596},{"p":"m","s":"od","x":1,"y":0.566},{"p":"m","s":"os","x":1,"y":0.56},{"p":"m","s":"oc","x":1,"y":0.42},{"p":"m","s":"fc","x":1,"y":0.334},

  {"p":"n","s":"od","x":0.2,"y":0},{"p":"n","s":"os","x":0.2,"y":0},
  {"p":"n","s":"od","x":0.25,"y":0},{"p":"n","s":"ft","x":0.25,"y":0.012},
  {"p":"n","s":"ot","x":0.3,"y":0.007},{"p":"n","s":"od","x":0.3,"y":0.002},
  {"p":"n","s":"os","x":0.35,"y":0.03},{"p":"n","s":"fd","x":0.35,"y":0.02},{"p":"n","s":"od","x":0.35,"y":0.007},
  {"p":"n","s":"os","x":0.4,"y":0.087},{"p":"n","s":"fd","x":0.4,"y":0.025},{"p":"n","s":"od","x":0.4,"y":0.007},
  {"p":"n","s":"os","x":0.45,"y":0.087},{"p":"n","s":"ft","x":0.45,"y":0.038},{"p":"n","s":"od","x":0.45,"y":0.01},
  {"p":"n","s":"os","x":0.5,"y":0.065},{"p":"n","s":"fs","x":0.5,"y":0.038},{"p":"n","s":"od","x":0.5,"y":0.007},
  {"p":"n","s":"fc","x":0.55,"y":0.05},{"p":"n","s":"os","x":0.55,"y":0.026},{"p":"n","s":"od","x":0.55,"y":0.007},
  {"p":"n","s":"fd","x":0.6,"y":0.093},{"p":"n","s":"fc","x":0.6,"y":0.056},{"p":"n","s":"os","x":0.6,"y":0.026},{"p":"n","s":"od","x":0.6,"y":0.007},
  {"p":"n","s":"fd","x":0.65,"y":0.155},{"p":"n","s":"ft","x":0.65,"y":0.124},{"p":"n","s":"oc","x":0.65,"y":0.081},{"p":"n","s":"os","x":0.65,"y":0.026},{"p":"n","s":"od","x":0.65,"y":0.007},
  {"p":"n","s":"fs","x":0.7,"y":0.216},{"p":"n","s":"ft","x":0.7,"y":0.21},{"p":"n","s":"oc","x":0.7,"y":0.093},{"p":"n","s":"os","x":0.7,"y":0.075},{"p":"n","s":"od","x":0.7,"y":0.02},
  {"p":"n","s":"fd","x":0.75,"y":0.345},{"p":"n","s":"ft","x":0.75,"y":0.21},{"p":"n","s":"oc","x":0.75,"y":0.136},{"p":"n","s":"os","x":0.75,"y":0.1},{"p":"n","s":"od","x":0.75,"y":0.03},
  {"p":"n","s":"fd","x":0.8,"y":0.467},{"p":"n","s":"ft","x":0.8,"y":0.185},{"p":"n","s":"ot","x":0.8,"y":0.17},{"p":"n","s":"os","x":0.8,"y":0.143},{"p":"n","s":"fc","x":0.8,"y":0.11},{"p":"n","s":"od","x":0.8,"y":0.05},
  {"p":"n","s":"oc","x":0.85,"y":0.351},{"p":"n","s":"ot","x":0.85,"y":0.259},{"p":"n","s":"os","x":0.85,"y":0.222},{"p":"n","s":"fc","x":0.85,"y":0.185},{"p":"n","s":"od","x":0.85,"y":0.124},{"p":"n","s":"fs","x":0.85,"y":0.087},
  {"p":"n","s":"fd","x":0.9,"y":0.67},{"p":"n","s":"oc","x":0.9,"y":0.474},{"p":"n","s":"os","x":0.9,"y":0.35},{"p":"n","s":"od","x":0.9,"y":0.27},{"p":"n","s":"fc","x":0.9,"y":0.26},{"p":"n","s":"ft","x":0.9,"y":0.13},
  {"p":"n","s":"fd","x":0.95,"y":0.744},{"p":"n","s":"ft","x":0.95,"y":0.615},{"p":"n","s":"oc","x":0.95,"y":0.59},{"p":"n","s":"os","x":0.95,"y":0.547},{"p":"n","s":"od","x":0.95,"y":0.467},{"p":"n","s":"ot","x":0.95,"y":0.449},{"p":"n","s":"fc","x":0.95,"y":0.26},{"p":"n","s":"fs","x":0.95,"y":0.216},
  {"p":"n","s":"fd","x":1,"y":0.8},{"p":"n","s":"fc","x":1,"y":0.78},{"p":"n","s":"od","x":1,"y":0.725},{"p":"n","s":"os","x":1,"y":0.682},{"p":"n","s":"oc","x":1,"y":0.658},{"p":"n","s":"ot","x":1,"y":0.529},{"p":"n","s":"fs","x":1,"y":0.326},{"p":"n","s":"fc","x":1,"y":0.167},

  {"p":"o","s":"od","x":0.1,"y":0},{"p":"o","s":"ot","x":0.1,"y":0},
  {"p":"o","s":"ft","x":0.15,"y":0.026},{"p":"o","s":"od","x":0.15,"y":0},
  {"p":"o","s":"fs","x":0.2,"y":0.02},{"p":"o","s":"od","x":0.2,"y":0},
  {"p":"o","s":"ft","x":0.25,"y":0.063},{"p":"o","s":"od","x":0.25,"y":0.007},
  {"p":"o","s":"os","x":0.3,"y":0.053},{"p":"o","s":"ot","x":0.3,"y":0.038},{"p":"o","s":"fd","x":0.3,"y":0.02},{"p":"o","s":"od","x":0.3,"y":0.007},
  {"p":"o","s":"os","x":0.35,"y":0.087},{"p":"o","s":"ot","x":0.35,"y":0.069},{"p":"o","s":"ft","x":0.35,"y":0.005},
  {"p":"o","s":"os","x":0.4,"y":0.093},{"p":"o","s":"fd","x":0.4,"y":0.05},{"p":"o","s":"od","x":0.4,"y":0.02},
  {"p":"o","s":"os","x":0.45,"y":0.106},{"p":"o","s":"fc","x":0.45,"y":0.056},{"p":"o","s":"od","x":0.45,"y":0.026},
  {"p":"o","s":"os","x":0.5,"y":0.124},{"p":"o","s":"fc","x":0.5,"y":0.063},{"p":"o","s":"od","x":0.5,"y":0.038},
  {"p":"o","s":"os","x":0.55,"y":0.155},{"p":"o","s":"ft","x":0.55,"y":0.13},{"p":"o","s":"fd","x":0.55,"y":0.1},{"p":"o","s":"od","x":0.55,"y":0.05},
  {"p":"o","s":"os","x":0.6,"y":0.173},{"p":"o","s":"ft","x":0.6,"y":0.125},{"p":"o","s":"fd","x":0.6,"y":0.087},{"p":"o","s":"od","x":0.6,"y":0.056},{"p":"o","s":"fc","x":0.6,"y":0.007},
  {"p":"o","s":"os","x":0.65,"y":0.173},{"p":"o","s":"ft","x":0.65,"y":0.135},{"p":"o","s":"fd","x":0.65,"y":0.124},{"p":"o","s":"od","x":0.65,"y":0.063},{"p":"o","s":"fc","x":0.65,"y":0.007},
  {"p":"o","s":"ot","x":0.7,"y":0.222},{"p":"o","s":"fc","x":0.7,"y":0.16},{"p":"o","s":"ft","x":0.7,"y":0.142},{"p":"o","s":"os","x":0.7,"y":0.124},{"p":"o","s":"od","x":0.7,"y":0.087},{"p":"o","s":"fs","x":0.7,"y":0.038},
  {"p":"o","s":"ot","x":0.75,"y":0.302},{"p":"o","s":"fd","x":0.75,"y":0.234},{"p":"o","s":"os","x":0.75,"y":0.136},{"p":"o","s":"ft","x":0.75,"y":0.1},{"p":"o","s":"fs","x":0.75,"y":0.026},{"p":"o","s":"od","x":0.75,"y":0.005},
  {"p":"o","s":"ot","x":0.8,"y":0.394},{"p":"o","s":"fd","x":0.8,"y":0.323},{"p":"o","s":"oc","x":0.8,"y":0.228},{"p":"o","s":"os","x":0.8,"y":0.142},{"p":"o","s":"od","x":0.8,"y":0.093},{"p":"o","s":"fs","x":0.8,"y":0.005},
  {"p":"o","s":"ot","x":0.85,"y":0.458},{"p":"o","s":"fd","x":0.85,"y":0.418},{"p":"o","s":"oc","x":0.85,"y":0.345},{"p":"o","s":"os","x":0.85,"y":0.075},{"p":"o","s":"fs","x":0.85,"y":0.005},
  {"p":"o","s":"fd","x":0.9,"y":0.5},{"p":"o","s":"oc","x":0.9,"y":0.449},{"p":"o","s":"od","x":0.9,"y":0.271},{"p":"o","s":"ft","x":0.9,"y":0.191},{"p":"o","s":"os","x":0.9,"y":0.063},{"p":"o","s":"fc","x":0.9,"y":0.055},
  {"p":"o","s":"fd","x":0.95,"y":0.59},{"p":"o","s":"oc","x":0.95,"y":0.541},{"p":"o","s":"ot","x":0.95,"y":0.535},{"p":"o","s":"ft","x":0.95,"y":0.431},{"p":"o","s":"od","x":0.95,"y":0.161},{"p":"o","s":"fc","x":0.95,"y":0.13},{"p":"o","s":"fs","x":0.95,"y":0.093},
  {"p":"o","s":"fc","x":1,"y":0.658},{"p":"o","s":"ft","x":1,"y":0.572},{"p":"o","s":"ot","x":1,"y":0.431},{"p":"o","s":"fc","x":1,"y":0.234},{"p":"o","s":"od","x":1,"y":0.161},{"p":"o","s":"os","x":1,"y":0}
 ]
},
"columns":5,
"spacing":{"row":54,"column":65},
"bounds":"flush",
"concat":[
  {"width":110,"height":274,"title":{"text":"(a) T₀=0.5sec, μₘₐₓ=1.5"},
   "layer":[
    {"data":{"name":"curve"},"transform":[{"filter":"datum.c=='a'"}],"mark":{"type":"line","color":"black","strokeWidth":2,"interpolate":"monotone"},"encoding":{"x":{"field":"x","type":"quantitative","title":null,"scale":{"domain":[0.6,1],"nice":false,"zero":false},"axis":{"values":[0.6,0.8,1],"labelAlign":{"condition":{"test":"datum.value < 0.61","value":"right"},"value":"center"}}},"y":{"field":"y","type":"quantitative","title":null,"scale":{"domain":[0,1],"nice":false},"axis":{"values":[0,0.2,0.4,0.6,0.8,1]}}}},
    {"data":{"name":"pts"},"transform":[{"filter":"datum.p=='a'"}],"mark":{"type":"point","filled":true,"stroke":"black","strokeWidth":1.4,"size":58,"opacity":1},"encoding":{"x":{"field":"x","type":"quantitative","title":null},"y":{"field":"y","type":"quantitative","title":null},"shape":{"field":"s","type":"nominal","legend":null,"scale":{"domain":["oc","fc","os","fs","ot","ft","od","fd"],"range":["circle","circle","square","square","triangle-up","triangle-up","diamond","diamond"]}},"fill":{"field":"s","type":"nominal","legend":null,"scale":{"domain":["oc","fc","os","fs","ot","ft","od","fd"],"range":["white","black","white","black","white","black","white","black"]}}}},
    {"data":{"values":[{}]},"mark":{"type":"text","fontStyle":"italic","fontSize":17,"align":"left","baseline":"middle","dx":8},"encoding":{"x":{"datum":0.6},"y":{"datum":0.92},"text":{"value":"δᵣₑₛ / δₘₐₓ"}}},
    {"data":{"values":[{}]},"mark":{"type":"text","fontStyle":"italic","fontSize":17,"align":"left","baseline":"middle","dx":4},"encoding":{"x":{"datum":1},"y":{"datum":0.06},"text":{"value":"ψ"}}},
    {"data":{"name":"kax"},"transform":[{"filter":"datum.c=='a'"}],"mark":{"type":"rule","color":"black","strokeWidth":1.5},"encoding":{"x":{"field":"x","type":"quantitative","title":null},"y":{"datum":1.2},"y2":{"datum":1.13}}},
    {"data":{"name":"kax"},"transform":[{"filter":"datum.c=='a'"}],"mark":{"type":"text","fontSize":15,"fontWeight":"bold","baseline":"middle"},"encoding":{"x":{"field":"lx","type":"quantitative","title":null},"y":{"datum":1.08},"text":{"field":"k"}}},
    {"data":{"values":[{}]},"mark":{"type":"rule","color":"black","strokeWidth":1.5},"encoding":{"x":{"datum":0.6},"x2":{"datum":0.995},"y":{"datum":1.2}}},
    {"data":{"values":[{}]},"mark":{"type":"text","fontStyle":"italic","fontWeight":"bold","fontSize":17,"align":"left","baseline":"middle","dx":4},"encoding":{"x":{"datum":0.995},"y":{"datum":1.157},"text":{"value":"k"}}}
   ]},
  {"width":165,"height":274,"title":{"text":"(b) T₀=0.5sec, μₘₐₓ=2"},
   "layer":[
    {"data":{"name":"curve"},"transform":[{"filter":"datum.c=='b'"}],"mark":{"type":"line","color":"black","strokeWidth":2,"interpolate":"monotone"},"encoding":{"x":{"field":"x","type":"quantitative","title":null,"scale":{"domain":[0.4,1],"nice":false,"zero":false},"axis":{"values":[0.4,0.6,0.8,1],"labelAlign":{"condition":{"test":"datum.value < 0.41","value":"right"},"value":"center"}}},"y":{"field":"y","type":"quantitative","title":null,"scale":{"domain":[0,1],"nice":false},"axis":{"values":[0,0.2,0.4,0.6,0.8,1]}}}},
    {"data":{"name":"pts"},"transform":[{"filter":"datum.p=='b'"}],"mark":{"type":"point","filled":true,"stroke":"black","strokeWidth":1.4,"size":58,"opacity":1},"encoding":{"x":{"field":"x","type":"quantitative","title":null},"y":{"field":"y","type":"quantitative","title":null},"shape":{"field":"s","type":"nominal","legend":null,"scale":{"domain":["oc","fc","os","fs","ot","ft","od","fd"],"range":["circle","circle","square","square","triangle-up","triangle-up","diamond","diamond"]}},"fill":{"field":"s","type":"nominal","legend":null,"scale":{"domain":["oc","fc","os","fs","ot","ft","od","fd"],"range":["white","black","white","black","white","black","white","black"]}}}},
    {"data":{"values":[{}]},"mark":{"type":"text","fontStyle":"italic","fontSize":17,"align":"left","baseline":"middle","dx":8},"encoding":{"x":{"datum":0.4},"y":{"datum":0.92},"text":{"value":"δᵣₑₛ / δₘₐₓ"}}},
    {"data":{"values":[{}]},"mark":{"type":"text","fontStyle":"italic","fontSize":17,"align":"left","baseline":"middle","dx":4},"encoding":{"x":{"datum":1},"y":{"datum":0.06},"text":{"value":"ψ"}}},
    {"data":{"name":"kax"},"transform":[{"filter":"datum.c=='b'"}],"mark":{"type":"rule","color":"black","strokeWidth":1.5},"encoding":{"x":{"field":"x","type":"quantitative","title":null},"y":{"datum":1.2},"y2":{"datum":1.13}}},
    {"data":{"name":"kax"},"transform":[{"filter":"datum.c=='b'"}],"mark":{"type":"text","fontSize":15,"fontWeight":"bold","baseline":"middle"},"encoding":{"x":{"field":"lx","type":"quantitative","title":null},"y":{"datum":1.08},"text":{"field":"k"}}},
    {"data":{"values":[{}]},"mark":{"type":"rule","color":"black","strokeWidth":1.5},"encoding":{"x":{"datum":0.4},"x2":{"datum":1.0},"y":{"datum":1.2}}},
    {"data":{"values":[{}]},"mark":{"type":"text","fontStyle":"italic","fontWeight":"bold","fontSize":17,"align":"left","baseline":"middle","dx":4},"encoding":{"x":{"datum":0.997},"y":{"datum":1.157},"text":{"value":"k"}}}
   ]},
  {"width":217,"height":274,"title":{"text":"(c) T₀=0.5sec, μₘₐₓ=3"},
   "layer":[
    {"data":{"name":"curve"},"transform":[{"filter":"datum.c=='c'"}],"mark":{"type":"line","color":"black","strokeWidth":2,"interpolate":"monotone"},"encoding":{"x":{"field":"x","type":"quantitative","title":null,"scale":{"domain":[0.2,1],"nice":false,"zero":false},"axis":{"values":[0.2,0.4,0.6,0.8,1]}},"y":{"field":"y","type":"quantitative","title":null,"scale":{"domain":[0,1],"nice":false},"axis":{"values":[0,0.2,0.4,0.6,0.8,1]}}}},
    {"data":{"name":"pts"},"transform":[{"filter":"datum.p=='c'"}],"mark":{"type":"point","filled":true,"stroke":"black","strokeWidth":1.4,"size":58,"opacity":1},"encoding":{"x":{"field":"x","type":"quantitative","title":null},"y":{"field":"y","type":"quantitative","title":null},"shape":{"field":"s","type":"nominal","legend":null,"scale":{"domain":["oc","fc","os","fs","ot","ft","od","fd"],"range":["circle","circle","square","square","triangle-up","triangle-up","diamond","diamond"]}},"fill":{"field":"s","type":"nominal","legend":null,"scale":{"domain":["oc","fc","os","fs","ot","ft","od","fd"],"range":["white","black","white","black","white","black","white","black"]}}}},
    {"data":{"values":[{}]},"mark":{"type":"text","fontStyle":"italic","fontSize":17,"align":"left","baseline":"middle","dx":8},"encoding":{"x":{"datum":0.2},"y":{"datum":0.92},"text":{"value":"δᵣₑₛ / δₘₐₓ"}}},
    {"data":{"values":[{}]},"mark":{"type":"text","fontStyle":"italic","fontSize":17,"align":"left","baseline":"middle","dx":4},"encoding":{"x":{"datum":1},"y":{"datum":0.06},"text":{"value":"ψ"}}},
    {"data":{"values":[{}]},"mark":{"type":"text","fontSize":15,"align":"left","baseline":"middle"},"encoding":{"x":{"datum":0.317},"y":{"datum":0.53},"text":{"value":"Proposed"}}},
    {"data":{"values":[{}]},"mark":{"type":"rule","color":"black","strokeWidth":1.2},"encoding":{"x":{"datum":0.584},"y":{"datum":0.512},"x2":{"datum":0.691},"y2":{"datum":0.39}}},
    {"data":{"values":[{}]},"mark":{"type":"point","shape":"M0,0L-1,-0.5M0,0L-1,0.5","filled":false,"stroke":"black","strokeWidth":1.3,"size":120,"angle":49,"opacity":1},"encoding":{"x":{"datum":0.691},"y":{"datum":0.39}}},
    {"data":{"name":"kax"},"transform":[{"filter":"datum.c=='c'"}],"mark":{"type":"rule","color":"black","strokeWidth":1.5},"encoding":{"x":{"field":"x","type":"quantitative","title":null},"y":{"datum":1.2},"y2":{"datum":1.13}}},
    {"data":{"name":"kax"},"transform":[{"filter":"datum.c=='c'"}],"mark":{"type":"text","fontSize":15,"fontWeight":"bold","baseline":"middle"},"encoding":{"x":{"field":"lx","type":"quantitative","title":null},"y":{"datum":1.08},"text":{"field":"k"}}},
    {"data":{"values":[{}]},"mark":{"type":"rule","color":"black","strokeWidth":1.5},"encoding":{"x":{"datum":0.2},"x2":{"datum":0.995},"y":{"datum":1.2}}},
    {"data":{"values":[{}]},"mark":{"type":"text","fontStyle":"italic","fontWeight":"bold","fontSize":17,"align":"left","baseline":"middle","dx":4},"encoding":{"x":{"datum":0.993},"y":{"datum":1.157},"text":{"value":"k"}}}
   ]},
  {"width":216,"height":274,"title":{"text":"(d) T₀=0.5sec, μₘₐₓ=5"},
   "layer":[
    {"data":{"name":"curve"},"transform":[{"filter":"datum.c=='d'"}],"mark":{"type":"line","color":"black","strokeWidth":2,"interpolate":"monotone"},"encoding":{"x":{"field":"x","type":"quantitative","title":null,"scale":{"domain":[0.2,1],"nice":false,"zero":false},"axis":{"values":[0.2,0.4,0.6,0.8,1]}},"y":{"field":"y","type":"quantitative","title":null,"scale":{"domain":[0,1],"nice":false},"axis":{"values":[0,0.2,0.4,0.6,0.8,1]}}}},
    {"data":{"name":"pts"},"transform":[{"filter":"datum.p=='d'"}],"mark":{"type":"point","filled":true,"stroke":"black","strokeWidth":1.4,"size":58,"opacity":1},"encoding":{"x":{"field":"x","type":"quantitative","title":null},"y":{"field":"y","type":"quantitative","title":null},"shape":{"field":"s","type":"nominal","legend":null,"scale":{"domain":["oc","fc","os","fs","ot","ft","od","fd"],"range":["circle","circle","square","square","triangle-up","triangle-up","diamond","diamond"]}},"fill":{"field":"s","type":"nominal","legend":null,"scale":{"domain":["oc","fc","os","fs","ot","ft","od","fd"],"range":["white","black","white","black","white","black","white","black"]}}}},
    {"data":{"values":[{}]},"mark":{"type":"text","fontStyle":"italic","fontSize":17,"align":"left","baseline":"middle","dx":8},"encoding":{"x":{"datum":0.2},"y":{"datum":0.92},"text":{"value":"δᵣₑₛ / δₘₐₓ"}}},
    {"data":{"values":[{}]},"mark":{"type":"text","fontStyle":"italic","fontSize":17,"align":"left","baseline":"middle","dx":6},"encoding":{"x":{"datum":1},"y":{"datum":0.08},"text":{"value":"ψ"}}},
    {"data":{"name":"kax"},"transform":[{"filter":"datum.c=='d'"}],"mark":{"type":"rule","color":"black","strokeWidth":1.5},"encoding":{"x":{"field":"x","type":"quantitative","title":null},"y":{"datum":1.2},"y2":{"datum":1.13}}},
    {"data":{"name":"kax"},"transform":[{"filter":"datum.c=='d'"}],"mark":{"type":"text","fontSize":15,"fontWeight":"bold","baseline":"middle"},"encoding":{"x":{"field":"lx","type":"quantitative","title":null},"y":{"datum":1.08},"text":{"field":"k"}}},
    {"data":{"values":[{}]},"mark":{"type":"rule","color":"black","strokeWidth":1.5},"encoding":{"x":{"datum":0.2},"x2":{"datum":1.0},"y":{"datum":1.2}}},
    {"data":{"values":[{}]},"mark":{"type":"text","fontStyle":"italic","fontWeight":"bold","fontSize":17,"align":"left","baseline":"middle","dx":5},"encoding":{"x":{"datum":0.995},"y":{"datum":1.157},"text":{"value":"k"}}}
   ]},
  {"width":273,"height":274,"title":{"text":"(e) T₀=0.5sec, μₘₐₓ=10"},
   "layer":[
    {"data":{"name":"curve"},"transform":[{"filter":"datum.c=='e'"}],"mark":{"type":"line","color":"black","strokeWidth":2,"interpolate":"monotone"},"encoding":{"x":{"field":"x","type":"quantitative","title":null,"scale":{"domain":[0,1],"nice":false,"zero":false},"axis":{"values":[0,0.2,0.4,0.6,0.8,1]}},"y":{"field":"y","type":"quantitative","title":null,"scale":{"domain":[0,1],"nice":false},"axis":{"values":[0,0.2,0.4,0.6,0.8,1]}}}},
    {"data":{"name":"pts"},"transform":[{"filter":"datum.p=='e'"}],"mark":{"type":"point","filled":true,"stroke":"black","strokeWidth":1.4,"size":58,"opacity":1},"encoding":{"x":{"field":"x","type":"quantitative","title":null},"y":{"field":"y","type":"quantitative","title":null},"shape":{"field":"s","type":"nominal","legend":null,"scale":{"domain":["oc","fc","os","fs","ot","ft","od","fd"],"range":["circle","circle","square","square","triangle-up","triangle-up","diamond","diamond"]}},"fill":{"field":"s","type":"nominal","legend":null,"scale":{"domain":["oc","fc","os","fs","ot","ft","od","fd"],"range":["white","black","white","black","white","black","white","black"]}}}},
    {"data":{"values":[{}]},"mark":{"type":"text","fontStyle":"italic","fontSize":17,"align":"left","baseline":"middle","dx":8},"encoding":{"x":{"datum":0},"y":{"datum":0.92},"text":{"value":"δᵣₑₛ / δₘₐₓ"}}},
    {"data":{"values":[{}]},"mark":{"type":"text","fontStyle":"italic","fontSize":17,"align":"left","baseline":"middle","dx":4},"encoding":{"x":{"datum":1},"y":{"datum":0.065},"text":{"value":"ψ"}}},
    {"data":{"values":[{}]},"mark":{"type":"text","fontSize":15,"align":"left","baseline":"middle"},"encoding":{"x":{"datum":0.177},"y":{"datum":0.689},"text":{"value":"Proposed"}}},
    {"data":{"values":[{}]},"mark":{"type":"rule","color":"black","strokeWidth":1.2},"encoding":{"x":{"datum":0.446},"y":{"datum":0.677},"x2":{"datum":0.562},"y2":{"datum":0.585}}},
    {"data":{"values":[{}]},"mark":{"type":"point","shape":"M0,0L-1,-0.5M0,0L-1,0.5","filled":false,"stroke":"black","strokeWidth":1.3,"size":120,"angle":38,"opacity":1},"encoding":{"x":{"datum":0.562},"y":{"datum":0.585}}},
    {"data":{"name":"kax"},"transform":[{"filter":"datum.c=='e'"}],"mark":{"type":"rule","color":"black","strokeWidth":1.5},"encoding":{"x":{"field":"x","type":"quantitative","title":null},"y":{"datum":1.2},"y2":{"datum":1.13}}},
    {"data":{"name":"kax"},"transform":[{"filter":"datum.c=='e'"}],"mark":{"type":"text","fontSize":15,"fontWeight":"bold","baseline":"middle"},"encoding":{"x":{"field":"lx","type":"quantitative","title":null},"y":{"datum":1.08},"text":{"field":"k"}}},
    {"data":{"values":[{}]},"mark":{"type":"rule","color":"black","strokeWidth":1.5},"encoding":{"x":{"datum":0},"x2":{"datum":1.01},"y":{"datum":1.2}}},
    {"data":{"values":[{}]},"mark":{"type":"text","fontStyle":"italic","fontWeight":"bold","fontSize":17,"align":"center","baseline":"middle"},"encoding":{"x":{"datum":0.966},"y":{"datum":1.157},"text":{"value":"k"}}}
   ]},
  {"width":110,"height":274,"title":{"text":"(f) T₀= 1 sec, μₘₐₓ=1.5"},
   "layer":[
    {"data":{"name":"curve"},"transform":[{"filter":"datum.c=='a'"}],"mark":{"type":"line","color":"black","strokeWidth":2,"interpolate":"monotone"},"encoding":{"x":{"field":"x","type":"quantitative","title":null,"scale":{"domain":[0.6,1],"nice":false,"zero":false},"axis":{"values":[0.6,0.8,1]}},"y":{"field":"y","type":"quantitative","title":null,"scale":{"domain":[0,1],"nice":false},"axis":{"values":[0,0.2,0.4,0.6,0.8,1]}}}},
    {"data":{"name":"pts"},"transform":[{"filter":"datum.p=='f'"}],"mark":{"type":"point","filled":true,"stroke":"black","strokeWidth":1.4,"size":58,"opacity":1},"encoding":{"x":{"field":"x","type":"quantitative","title":null},"y":{"field":"y","type":"quantitative","title":null},"shape":{"field":"s","type":"nominal","legend":null,"scale":{"domain":["oc","fc","os","fs","ot","ft","od","fd"],"range":["circle","circle","square","square","triangle-up","triangle-up","diamond","diamond"]}},"fill":{"field":"s","type":"nominal","legend":null,"scale":{"domain":["oc","fc","os","fs","ot","ft","od","fd"],"range":["white","black","white","black","white","black","white","black"]}}}},
    {"data":{"values":[{}]},"mark":{"type":"text","fontStyle":"italic","fontSize":17,"align":"left","baseline":"middle","dx":8},"encoding":{"x":{"datum":0.6},"y":{"datum":0.92},"text":{"value":"δᵣₑₛ / δₘₐₓ"}}},
    {"data":{"values":[{}]},"mark":{"type":"text","fontStyle":"italic","fontSize":17,"align":"left","baseline":"middle","dx":4},"encoding":{"x":{"datum":1},"y":{"datum":0.1},"text":{"value":"ψ"}}}
   ]},
  {"width":165,"height":274,"title":{"text":"(g) T₀= 1 sec, μₘₐₓ=2"},
   "layer":[
    {"data":{"name":"curve"},"transform":[{"filter":"datum.c=='b'"}],"mark":{"type":"line","color":"black","strokeWidth":2,"interpolate":"monotone"},"encoding":{"x":{"field":"x","type":"quantitative","title":null,"scale":{"domain":[0.4,1],"nice":false,"zero":false},"axis":{"values":[0.4,0.6,0.8,1],"labelAlign":{"condition":{"test":"datum.value < 0.41","value":"right"},"value":"center"}}},"y":{"field":"y","type":"quantitative","title":null,"scale":{"domain":[0,1],"nice":false},"axis":{"values":[0,0.2,0.4,0.6,0.8,1]}}}},
    {"data":{"name":"pts"},"transform":[{"filter":"datum.p=='g'"}],"mark":{"type":"point","filled":true,"stroke":"black","strokeWidth":1.4,"size":58,"opacity":1},"encoding":{"x":{"field":"x","type":"quantitative","title":null},"y":{"field":"y","type":"quantitative","title":null},"shape":{"field":"s","type":"nominal","legend":null,"scale":{"domain":["oc","fc","os","fs","ot","ft","od","fd"],"range":["circle","circle","square","square","triangle-up","triangle-up","diamond","diamond"]}},"fill":{"field":"s","type":"nominal","legend":null,"scale":{"domain":["oc","fc","os","fs","ot","ft","od","fd"],"range":["white","black","white","black","white","black","white","black"]}}}},
    {"data":{"values":[{}]},"mark":{"type":"text","fontStyle":"italic","fontSize":17,"align":"left","baseline":"middle","dx":8},"encoding":{"x":{"datum":0.4},"y":{"datum":0.92},"text":{"value":"δᵣₑₛ / δₘₐₓ"}}},
    {"data":{"values":[{}]},"mark":{"type":"text","fontStyle":"italic","fontSize":17,"align":"left","baseline":"middle","dx":4},"encoding":{"x":{"datum":1},"y":{"datum":0.06},"text":{"value":"ψ"}}}
   ]},
  {"width":217,"height":274,"title":{"text":"(h) T₀= 1 sec, μₘₐₓ=3"},
   "layer":[
    {"data":{"name":"curve"},"transform":[{"filter":"datum.c=='c'"}],"mark":{"type":"line","color":"black","strokeWidth":2,"interpolate":"monotone"},"encoding":{"x":{"field":"x","type":"quantitative","title":null,"scale":{"domain":[0.2,1],"nice":false,"zero":false},"axis":{"values":[0.2,0.4,0.6,0.8,1]}},"y":{"field":"y","type":"quantitative","title":null,"scale":{"domain":[0,1],"nice":false},"axis":{"values":[0,0.2,0.4,0.6,0.8,1]}}}},
    {"data":{"name":"pts"},"transform":[{"filter":"datum.p=='h'"}],"mark":{"type":"point","filled":true,"stroke":"black","strokeWidth":1.4,"size":58,"opacity":1},"encoding":{"x":{"field":"x","type":"quantitative","title":null},"y":{"field":"y","type":"quantitative","title":null},"shape":{"field":"s","type":"nominal","legend":null,"scale":{"domain":["oc","fc","os","fs","ot","ft","od","fd"],"range":["circle","circle","square","square","triangle-up","triangle-up","diamond","diamond"]}},"fill":{"field":"s","type":"nominal","legend":null,"scale":{"domain":["oc","fc","os","fs","ot","ft","od","fd"],"range":["white","black","white","black","white","black","white","black"]}}}},
    {"data":{"values":[{}]},"mark":{"type":"text","fontStyle":"italic","fontSize":17,"align":"left","baseline":"middle","dx":8},"encoding":{"x":{"datum":0.2},"y":{"datum":0.92},"text":{"value":"δᵣₑₛ / δₘₐₓ"}}},
    {"data":{"values":[{}]},"mark":{"type":"text","fontStyle":"italic","fontSize":17,"align":"left","baseline":"middle","dx":4},"encoding":{"x":{"datum":1},"y":{"datum":0.06},"text":{"value":"ψ"}}}
   ]},
  {"width":216,"height":274,"title":{"text":"(i) T₀= 1 sec, μₘₐₓ=5"},
   "layer":[
    {"data":{"name":"curve"},"transform":[{"filter":"datum.c=='d'"}],"mark":{"type":"line","color":"black","strokeWidth":2,"interpolate":"monotone"},"encoding":{"x":{"field":"x","type":"quantitative","title":null,"scale":{"domain":[0.2,1],"nice":false,"zero":false},"axis":{"values":[0.2,0.4,0.6,0.8,1]}},"y":{"field":"y","type":"quantitative","title":null,"scale":{"domain":[0,1],"nice":false},"axis":{"values":[0,0.2,0.4,0.6,0.8,1]}}}},
    {"data":{"name":"pts"},"transform":[{"filter":"datum.p=='i'"}],"mark":{"type":"point","filled":true,"stroke":"black","strokeWidth":1.4,"size":58,"opacity":1},"encoding":{"x":{"field":"x","type":"quantitative","title":null},"y":{"field":"y","type":"quantitative","title":null},"shape":{"field":"s","type":"nominal","legend":null,"scale":{"domain":["oc","fc","os","fs","ot","ft","od","fd"],"range":["circle","circle","square","square","triangle-up","triangle-up","diamond","diamond"]}},"fill":{"field":"s","type":"nominal","legend":null,"scale":{"domain":["oc","fc","os","fs","ot","ft","od","fd"],"range":["white","black","white","black","white","black","white","black"]}}}},
    {"data":{"values":[{}]},"mark":{"type":"text","fontStyle":"italic","fontSize":17,"align":"left","baseline":"middle","dx":8},"encoding":{"x":{"datum":0.2},"y":{"datum":0.92},"text":{"value":"δᵣₑₛ / δₘₐₓ"}}},
    {"data":{"values":[{}]},"mark":{"type":"text","fontStyle":"italic","fontSize":17,"align":"left","baseline":"middle","dx":6},"encoding":{"x":{"datum":1},"y":{"datum":0.06},"text":{"value":"ψ"}}}
   ]},
  {"width":273,"height":274,"title":{"text":"(j) T₀= 1 sec, μₘₐₓ=10"},
   "layer":[
    {"data":{"name":"curve"},"transform":[{"filter":"datum.c=='e'"}],"mark":{"type":"line","color":"black","strokeWidth":2,"interpolate":"monotone"},"encoding":{"x":{"field":"x","type":"quantitative","title":null,"scale":{"domain":[0,1],"nice":false,"zero":false},"axis":{"values":[0,0.2,0.4,0.6,0.8,1]}},"y":{"field":"y","type":"quantitative","title":null,"scale":{"domain":[0,1],"nice":false},"axis":{"values":[0,0.2,0.4,0.6,0.8,1]}}}},
    {"data":{"name":"pts"},"transform":[{"filter":"datum.p=='j'"}],"mark":{"type":"point","filled":true,"stroke":"black","strokeWidth":1.4,"size":58,"opacity":1},"encoding":{"x":{"field":"x","type":"quantitative","title":null},"y":{"field":"y","type":"quantitative","title":null},"shape":{"field":"s","type":"nominal","legend":null,"scale":{"domain":["oc","fc","os","fs","ot","ft","od","fd"],"range":["circle","circle","square","square","triangle-up","triangle-up","diamond","diamond"]}},"fill":{"field":"s","type":"nominal","legend":null,"scale":{"domain":["oc","fc","os","fs","ot","ft","od","fd"],"range":["white","black","white","black","white","black","white","black"]}}}},
    {"data":{"values":[{}]},"mark":{"type":"text","fontStyle":"italic","fontSize":17,"align":"left","baseline":"middle","dx":8},"encoding":{"x":{"datum":0},"y":{"datum":0.92},"text":{"value":"δᵣₑₛ / δₘₐₓ"}}},
    {"data":{"values":[{}]},"mark":{"type":"text","fontStyle":"italic","fontSize":17,"align":"left","baseline":"middle","dx":6},"encoding":{"x":{"datum":1},"y":{"datum":0.035},"text":{"value":"ψ"}}}
   ]},
  {"width":110,"height":274,"title":{"text":"(k) T₀= 2 sec, μₘₐₓ=1.5"},
   "layer":[
    {"data":{"name":"curve"},"transform":[{"filter":"datum.c=='a'"}],"mark":{"type":"line","color":"black","strokeWidth":2,"interpolate":"monotone"},"encoding":{"x":{"field":"x","type":"quantitative","title":null,"scale":{"domain":[0.6,1],"nice":false,"zero":false},"axis":{"values":[0.6,0.8,1]}},"y":{"field":"y","type":"quantitative","title":null,"scale":{"domain":[0,1],"nice":false},"axis":{"values":[0,0.2,0.4,0.6,0.8,1]}}}},
    {"data":{"name":"pts"},"transform":[{"filter":"datum.p=='k'"}],"mark":{"type":"point","filled":true,"stroke":"black","strokeWidth":1.4,"size":58,"opacity":1},"encoding":{"x":{"field":"x","type":"quantitative","title":null},"y":{"field":"y","type":"quantitative","title":null},"shape":{"field":"s","type":"nominal","legend":null,"scale":{"domain":["oc","fc","os","fs","ot","ft","od","fd"],"range":["circle","circle","square","square","triangle-up","triangle-up","diamond","diamond"]}},"fill":{"field":"s","type":"nominal","legend":null,"scale":{"domain":["oc","fc","os","fs","ot","ft","od","fd"],"range":["white","black","white","black","white","black","white","black"]}}}},
    {"data":{"values":[{}]},"mark":{"type":"text","fontStyle":"italic","fontSize":17,"align":"left","baseline":"middle","dx":8},"encoding":{"x":{"datum":0.6},"y":{"datum":0.92},"text":{"value":"δᵣₑₛ / δₘₐₓ"}}},
    {"data":{"values":[{}]},"mark":{"type":"text","fontStyle":"italic","fontSize":17,"align":"left","baseline":"middle","dx":4},"encoding":{"x":{"datum":1},"y":{"datum":0.06},"text":{"value":"ψ"}}}
   ]},
  {"width":165,"height":274,"title":{"text":"(l) T₀= 2 sec, μₘₐₓ=2"},
   "layer":[
    {"data":{"name":"curve"},"transform":[{"filter":"datum.c=='b'"}],"mark":{"type":"line","color":"black","strokeWidth":2,"interpolate":"monotone"},"encoding":{"x":{"field":"x","type":"quantitative","title":null,"scale":{"domain":[0.4,1],"nice":false,"zero":false},"axis":{"values":[0.4,0.6,0.8,1]}},"y":{"field":"y","type":"quantitative","title":null,"scale":{"domain":[0,1],"nice":false},"axis":{"values":[0,0.2,0.4,0.6,0.8,1]}}}},
    {"data":{"name":"pts"},"transform":[{"filter":"datum.p=='l'"}],"mark":{"type":"point","filled":true,"stroke":"black","strokeWidth":1.4,"size":58,"opacity":1},"encoding":{"x":{"field":"x","type":"quantitative","title":null},"y":{"field":"y","type":"quantitative","title":null},"shape":{"field":"s","type":"nominal","legend":null,"scale":{"domain":["oc","fc","os","fs","ot","ft","od","fd"],"range":["circle","circle","square","square","triangle-up","triangle-up","diamond","diamond"]}},"fill":{"field":"s","type":"nominal","legend":null,"scale":{"domain":["oc","fc","os","fs","ot","ft","od","fd"],"range":["white","black","white","black","white","black","white","black"]}}}},
    {"data":{"values":[{}]},"mark":{"type":"text","fontStyle":"italic","fontSize":17,"align":"left","baseline":"middle","dx":8},"encoding":{"x":{"datum":0.4},"y":{"datum":0.92},"text":{"value":"δᵣₑₛ / δₘₐₓ"}}},
    {"data":{"values":[{}]},"mark":{"type":"text","fontStyle":"italic","fontSize":17,"align":"left","baseline":"middle","dx":4},"encoding":{"x":{"datum":1},"y":{"datum":0.08},"text":{"value":"ψ"}}}
   ]},
  {"width":217,"height":274,"title":{"text":"(m) T₀= 2 sec, μₘₐₓ=3"},
   "layer":[
    {"data":{"name":"curve"},"transform":[{"filter":"datum.c=='c'"}],"mark":{"type":"line","color":"black","strokeWidth":2,"interpolate":"monotone"},"encoding":{"x":{"field":"x","type":"quantitative","title":null,"scale":{"domain":[0.2,1],"nice":false,"zero":false},"axis":{"values":[0.2,0.4,0.6,0.8,1]}},"y":{"field":"y","type":"quantitative","title":null,"scale":{"domain":[0,1],"nice":false},"axis":{"values":[0,0.2,0.4,0.6,0.8,1]}}}},
    {"data":{"name":"pts"},"transform":[{"filter":"datum.p=='m'"}],"mark":{"type":"point","filled":true,"stroke":"black","strokeWidth":1.4,"size":58,"opacity":1},"encoding":{"x":{"field":"x","type":"quantitative","title":null},"y":{"field":"y","type":"quantitative","title":null},"shape":{"field":"s","type":"nominal","legend":null,"scale":{"domain":["oc","fc","os","fs","ot","ft","od","fd"],"range":["circle","circle","square","square","triangle-up","triangle-up","diamond","diamond"]}},"fill":{"field":"s","type":"nominal","legend":null,"scale":{"domain":["oc","fc","os","fs","ot","ft","od","fd"],"range":["white","black","white","black","white","black","white","black"]}}}},
    {"data":{"values":[{}]},"mark":{"type":"text","fontStyle":"italic","fontSize":17,"align":"left","baseline":"middle","dx":8},"encoding":{"x":{"datum":0.2},"y":{"datum":0.92},"text":{"value":"δᵣₑₛ / δₘₐₓ"}}},
    {"data":{"values":[{}]},"mark":{"type":"text","fontStyle":"italic","fontSize":17,"align":"left","baseline":"middle","dx":4},"encoding":{"x":{"datum":1},"y":{"datum":0.06},"text":{"value":"ψ"}}}
   ]},
  {"width":216,"height":274,"title":{"text":"(n) T₀= 2 sec, μₘₐₓ=5"},
   "layer":[
    {"data":{"name":"curve"},"transform":[{"filter":"datum.c=='d'"}],"mark":{"type":"line","color":"black","strokeWidth":2,"interpolate":"monotone"},"encoding":{"x":{"field":"x","type":"quantitative","title":null,"scale":{"domain":[0.2,1],"nice":false,"zero":false},"axis":{"values":[0.2,0.4,0.6,0.8,1]}},"y":{"field":"y","type":"quantitative","title":null,"scale":{"domain":[0,1],"nice":false},"axis":{"values":[0,0.2,0.4,0.6,0.8,1]}}}},
    {"data":{"name":"pts"},"transform":[{"filter":"datum.p=='n'"}],"mark":{"type":"point","filled":true,"stroke":"black","strokeWidth":1.4,"size":58,"opacity":1},"encoding":{"x":{"field":"x","type":"quantitative","title":null},"y":{"field":"y","type":"quantitative","title":null},"shape":{"field":"s","type":"nominal","legend":null,"scale":{"domain":["oc","fc","os","fs","ot","ft","od","fd"],"range":["circle","circle","square","square","triangle-up","triangle-up","diamond","diamond"]}},"fill":{"field":"s","type":"nominal","legend":null,"scale":{"domain":["oc","fc","os","fs","ot","ft","od","fd"],"range":["white","black","white","black","white","black","white","black"]}}}},
    {"data":{"values":[{}]},"mark":{"type":"text","fontStyle":"italic","fontSize":17,"align":"left","baseline":"middle","dx":8},"encoding":{"x":{"datum":0.2},"y":{"datum":0.92},"text":{"value":"δᵣₑₛ / δₘₐₓ"}}},
    {"data":{"values":[{}]},"mark":{"type":"text","fontStyle":"italic","fontSize":17,"align":"left","baseline":"middle","dx":6},"encoding":{"x":{"datum":1},"y":{"datum":0.02},"text":{"value":"ψ"}}}
   ]},
  {"width":273,"height":274,"title":{"text":"(o) T₀= 2 sec, μₘₐₓ=10"},
   "layer":[
    {"data":{"name":"curve"},"transform":[{"filter":"datum.c=='e'"}],"mark":{"type":"line","color":"black","strokeWidth":2,"interpolate":"monotone"},"encoding":{"x":{"field":"x","type":"quantitative","title":null,"scale":{"domain":[0,1],"nice":false,"zero":false},"axis":{"values":[0,0.2,0.4,0.6,0.8,1]}},"y":{"field":"y","type":"quantitative","title":null,"scale":{"domain":[0,1],"nice":false},"axis":{"values":[0,0.2,0.4,0.6,0.8,1]}}}},
    {"data":{"name":"pts"},"transform":[{"filter":"datum.p=='o'"}],"mark":{"type":"point","filled":true,"stroke":"black","strokeWidth":1.4,"size":58,"opacity":1},"encoding":{"x":{"field":"x","type":"quantitative","title":null},"y":{"field":"y","type":"quantitative","title":null},"shape":{"field":"s","type":"nominal","legend":null,"scale":{"domain":["oc","fc","os","fs","ot","ft","od","fd"],"range":["circle","circle","square","square","triangle-up","triangle-up","diamond","diamond"]}},"fill":{"field":"s","type":"nominal","legend":null,"scale":{"domain":["oc","fc","os","fs","ot","ft","od","fd"],"range":["white","black","white","black","white","black","white","black"]}}}},
    {"data":{"values":[{}]},"mark":{"type":"text","fontStyle":"italic","fontSize":17,"align":"left","baseline":"middle","dx":8},"encoding":{"x":{"datum":0},"y":{"datum":0.92},"text":{"value":"δᵣₑₛ / δₘₐₓ"}}},
    {"data":{"values":[{}]},"mark":{"type":"text","fontStyle":"italic","fontSize":17,"align":"left","baseline":"middle","dx":8},"encoding":{"x":{"datum":1},"y":{"datum":0.05},"text":{"value":"ψ"}}}
   ]}
]
}
